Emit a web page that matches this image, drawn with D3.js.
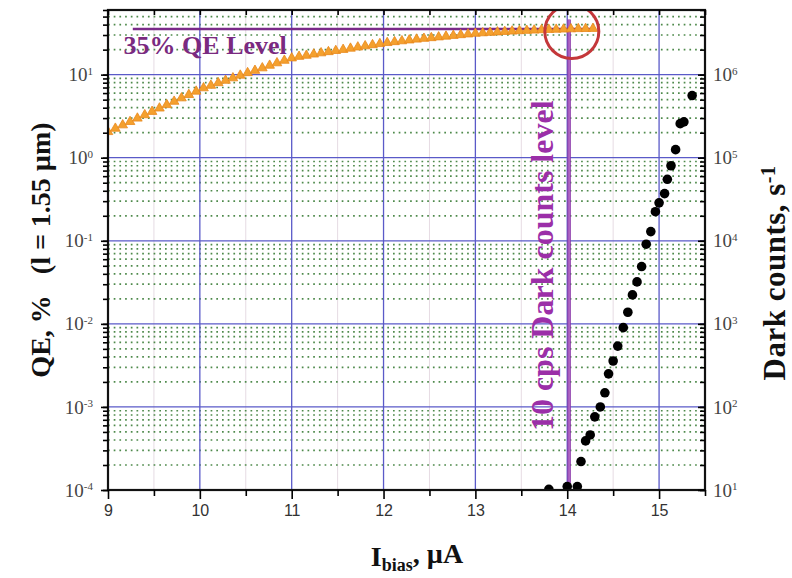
<!DOCTYPE html>
<html>
<head>
<meta charset="utf-8">
<script src="https://cdnjs.cloudflare.com/ajax/libs/d3/7.8.5/d3.min.js"></script>
<style>
    body { margin: 0; background: #fff; }
    .axis path { display: none; }
    .axis line { stroke: #000; stroke-width: 1.6px; }
    .x-axis text { font-family: "Liberation Sans", Arial, sans-serif; font-size: 16px; fill: #333; }
    .log-axis text { font-family: "Liberation Serif", "Times New Roman", serif; font-size: 19px; fill: #444; }
    .title { font-family: "Liberation Serif", "Times New Roman", serif; font-weight: bold; font-size: 28px; fill: #111; }
    .note { font-family: "Liberation Serif", "Times New Roman", serif; font-weight: bold; }
</style>
</head>
<body>
<div id="chart"></div>
<script>
// QE curve, orange triangles (I_bias in uA, QE in %)
const qeBias = [9.00, 9.08, 9.16, 9.24, 9.32, 9.40, 9.48, 9.56, 9.64, 9.72, 9.80, 9.88, 9.96,
    10.04, 10.12, 10.20, 10.28, 10.36, 10.44, 10.52, 10.60, 10.68, 10.76, 10.84, 10.92, 11.00,
    11.08, 11.16, 11.24, 11.32, 11.40, 11.48, 11.56, 11.64, 11.72, 11.80, 11.88, 11.96, 12.04,
    12.12, 12.20, 12.28, 12.36, 12.44, 12.52, 12.60, 12.68, 12.76, 12.84, 12.92, 13.00,
    13.08, 13.16, 13.24, 13.32, 13.40, 13.48, 13.56, 13.64, 13.72, 13.80, 13.88, 13.96,
    14.04, 14.12, 14.20, 14.28];
const qeValues = [2.05, 2.25, 2.47, 2.71, 2.98, 3.27, 3.59, 3.94, 4.33, 4.75, 5.22, 5.73, 6.29,
    6.9, 7.4, 7.95, 8.5, 9.1, 9.8, 10.5, 11.2, 12.0, 12.9, 13.8, 14.8, 15.8,
    16.5, 17.0, 17.6, 18.2, 18.8, 19.4, 20.0, 20.7, 21.4, 22.1, 22.8, 23.5, 24.2,
    24.8, 25.4, 26.0, 26.6, 27.2, 27.7, 28.3, 28.9, 29.5, 30.1, 30.7, 31.3,
    31.7, 32.1, 32.5, 32.9, 33.3, 33.6, 33.9, 34.2, 34.5, 34.8, 35.0, 35.2,
    35.4, 35.6, 35.7, 35.8];

// dark counts, black dots (I_bias in uA, counts per second)
const dcBias = [13.80, 14.00, 14.11, 14.15, 14.20, 14.25, 14.30, 14.36, 14.41, 14.45, 14.50,
    14.55, 14.61, 14.66, 14.71, 14.76, 14.81, 14.86, 14.91, 14.96, 15.00, 15.06, 15.09,
    15.13, 15.18, 15.23, 15.27, 15.36];
const dcValues = [10.2, 11, 11, 22, 39, 46, 76, 100, 148, 250, 357,
    540, 900, 1380, 2230, 3200, 4900, 9100, 12900, 22400, 28600, 37000, 55000,
    80000, 125000, 257000, 270000, 560000];

// ticks
const xTickValues = [9, 10, 11, 12, 13, 14, 15];
const xMinorTicks = [9.5, 10.5, 11.5, 12.5, 13.5, 14.5, 15.5];
const qeTickValues = [1e-4, 1e-3, 1e-2, 1e-1, 1, 10];
const qeTickExps = ["-4", "-3", "-2", "-1", "0", "1"];
const dcTickValues = [1e1, 1e2, 1e3, 1e4, 1e5, 1e6];
const dcTickExps = ["1", "2", "3", "4", "5", "6"];

// annotation levels
const qeLevel = 35.5;
const qeLevelRange = [9.27, 14.3];
const dcLevelBias = 14.02;
const markCenter = [14.05, 33];

class BiasChart {
    constructor(parentElement) {
        this.parentElement = parentElement;
        this.initVis();
    }

    initVis() {
        let vis = this;
        vis.margin = {top: 10, right: 87, bottom: 88, left: 108};
        vis.width = 792 - vis.margin.left - vis.margin.right;
        vis.height = 578 - vis.margin.top - vis.margin.bottom;

        vis.root = d3.select("#" + vis.parentElement).append("svg")
            .attr("width", 792)
            .attr("height", 578);
        vis.root.append("rect").attr("width", 792).attr("height", 578).attr("fill", "#fff");
        vis.svg = vis.root.append("g")
            .attr("transform", "translate(" + vis.margin.left + "," + vis.margin.top + ")");

        // scales
        vis.x = d3.scaleLinear().domain([9, 15.5]).range([0, vis.width]);
        vis.yQE = d3.scaleLog().domain([1e-4, 60]).range([vis.height, 0]);
        vis.yDC = d3.scaleLog().domain([10, 6e6]).range([vis.height, 0]);

        vis.svg.append("clipPath").attr("id", "plot-clip")
            .append("rect").attr("width", vis.width).attr("height", vis.height);

        vis.drawGrid();
        vis.drawData();
        vis.drawAxes();
        vis.drawTitles();
    }

    drawGrid() {
        let vis = this;
        let grid = vis.svg.append("g").attr("class", "grid");
        let isDecade = d => Math.abs(Math.log10(d) - Math.round(Math.log10(d))) < 1e-9;

        // faint half-step verticals
        grid.selectAll(".v-minor").data(xMinorTicks.filter(d => d < 15.5))
            .enter().append("line")
            .attr("x1", d => vis.x(d)).attr("x2", d => vis.x(d))
            .attr("y1", 0).attr("y2", vis.height)
            .attr("stroke", "#e6dbe3").attr("stroke-width", 1);

        // dotted minor horizontals
        grid.selectAll(".h-minor").data(vis.yQE.ticks().filter(d => !isDecade(d)))
            .enter().append("line")
            .attr("x1", 0).attr("x2", vis.width)
            .attr("y1", d => vis.yQE(d)).attr("y2", d => vis.yQE(d))
            .attr("stroke", "#4f8a4c").attr("stroke-width", 1.7)
            .attr("stroke-dasharray", "1.7,4");

        // blue major lines
        grid.selectAll(".h-major").data(qeTickValues.slice(1))
            .enter().append("line")
            .attr("x1", 0).attr("x2", vis.width)
            .attr("y1", d => vis.yQE(d)).attr("y2", d => vis.yQE(d))
            .attr("stroke", "#5a5ac8").attr("stroke-width", 1.3);
        grid.selectAll(".v-major").data(xTickValues.slice(1))
            .enter().append("line")
            .attr("x1", d => vis.x(d)).attr("x2", d => vis.x(d))
            .attr("y1", 0).attr("y2", vis.height)
            .attr("stroke", "#5a5ac8").attr("stroke-width", 1.3);
    }

    drawData() {
        let vis = this;
        let plot = vis.svg.append("g").attr("clip-path", "url(#plot-clip)");

        // dark counts level line
        plot.append("line")
            .attr("x1", vis.x(dcLevelBias)).attr("x2", vis.x(dcLevelBias))
            .attr("y1", vis.yQE(46)).attr("y2", vis.height)
            .attr("stroke", "#8a35a8").attr("stroke-width", 3.5);
        plot.append("line")
            .attr("x1", vis.x(dcLevelBias)).attr("x2", vis.x(dcLevelBias))
            .attr("y1", vis.yQE(46)).attr("y2", vis.height)
            .attr("stroke", "#c98ad8").attr("stroke-width", 1);

        // 35% QE level line
        plot.append("line")
            .attr("x1", vis.x(qeLevelRange[0])).attr("x2", vis.x(qeLevelRange[1]))
            .attr("y1", vis.yQE(qeLevel)).attr("y2", vis.yQE(qeLevel))
            .attr("stroke", "#7a2a88").attr("stroke-width", 2.5);

        // QE triangles
        let qeData = qeBias.map((b, i) => ({bias: b, qe: qeValues[i]}));
        plot.selectAll(".tri").data(qeData)
            .enter().append("path")
            .attr("class", "tri")
            .attr("transform", d => "translate(" + vis.x(d.bias) + "," + vis.yQE(d.qe) + ")")
            .attr("d", d3.symbol().type(d3.symbolTriangle).size(40))
            .attr("fill", "#f4a02e")
            .attr("stroke", "#e8881c")
            .attr("stroke-width", 0.8);

        // red circle around the working point
        plot.append("circle")
            .attr("cx", vis.x(markCenter[0])).attr("cy", vis.yQE(markCenter[1]))
            .attr("r", 27)
            .attr("fill", "none")
            .attr("stroke", "#c4373a")
            .attr("stroke-width", 3);

        // dark count dots
        let dcData = dcBias.map((b, i) => ({bias: b, dc: dcValues[i]}));
        plot.selectAll(".dot").data(dcData)
            .enter().append("circle")
            .attr("class", "dot")
            .attr("cx", d => vis.x(d.bias))
            .attr("cy", d => vis.yDC(d.dc))
            .attr("r", 4.8)
            .attr("fill", "#000");

        // annotations
        vis.svg.append("text")
            .attr("class", "note")
            .attr("x", vis.x(9.17))
            .attr("y", vis.yQE(17.5))
            .attr("font-size", "26px")
            .attr("fill", "#7a2a80")
            .text("35% QE Level");

        vis.svg.append("text")
            .attr("class", "note")
            .attr("transform", "translate(" + vis.x(13.84) + "," + vis.yQE(0.05) + ") rotate(-90)")
            .attr("text-anchor", "middle")
            .attr("font-size", "32px")
            .attr("fill", "#9b2fa8")
            .text("10 cps Dark counts level");
    }

    drawAxes() {
        let vis = this;

        // frame
        vis.svg.append("rect")
            .attr("width", vis.width).attr("height", vis.height)
            .attr("fill", "none").attr("stroke", "#111").attr("stroke-width", 2.2);

        // bottom
        vis.svg.append("g").attr("class", "axis")
            .attr("transform", "translate(0," + vis.height + ")")
            .call(d3.axisBottom(vis.x).tickValues(xMinorTicks).tickSize(6).tickFormat(""));
        vis.svg.append("g").attr("class", "x-axis axis")
            .attr("transform", "translate(0," + vis.height + ")")
            .call(d3.axisBottom(vis.x).tickValues(xTickValues).tickSize(9).tickPadding(6)
                .tickFormat(d3.format("d")));

        // top, ticks inward
        vis.svg.append("g").attr("class", "axis")
            .call(d3.axisTop(vis.x).tickValues(xTickValues.concat(xMinorTicks)).tickSize(-5).tickFormat(""));

        // left QE axis
        vis.svg.append("g").attr("class", "axis")
            .call(d3.axisLeft(vis.yQE).tickValues(vis.yQE.ticks()).tickSize(5).tickFormat(""));
        vis.svg.append("g").attr("class", "y-axis log-axis axis")
            .call(d3.axisLeft(vis.yQE).tickValues(qeTickValues).tickSize(7).tickPadding(8));
        vis.svg.select(".y-axis").selectAll(".tick text")
            .text("10")
            .append("tspan")
            .attr("dy", "-0.6em")
            .attr("font-size", "11px")
            .text(d => qeTickExps[qeTickValues.indexOf(d)]);

        // right dark counts axis, ticks inward
        vis.svg.append("g").attr("class", "axis")
            .attr("transform", "translate(" + vis.width + ",0)")
            .call(d3.axisRight(vis.yDC).tickValues(vis.yDC.ticks()).tickSize(-5).tickFormat(""));
        vis.svg.append("g").attr("class", "y2-axis log-axis axis")
            .attr("transform", "translate(" + vis.width + ",0)")
            .call(d3.axisRight(vis.yDC).tickValues(dcTickValues).tickSize(-7).tickPadding(8));
        vis.svg.select(".y2-axis").selectAll(".tick text")
            .text("10")
            .append("tspan")
            .attr("dy", "-0.6em")
            .attr("font-size", "11px")
            .text(d => dcTickExps[dcTickValues.indexOf(d)]);
    }

    drawTitles() {
        let vis = this;

        let left = vis.root.append("text")
            .attr("class", "title")
            .attr("transform", "translate(50," + (vis.margin.top + vis.height / 2) + ") rotate(-90)")
            .attr("text-anchor", "middle")
            .attr("font-size", "29px")
            .attr("xml:space", "preserve");
        left.text("QE, %   (l = 1.55 \u00b5m)");

        let right = vis.root.append("text")
            .attr("class", "title")
            .attr("transform", "translate(785," + (vis.margin.top + vis.height / 2 + 23) + ") rotate(-90)")
            .attr("text-anchor", "middle")
            .style("font-size", "31px")
            .style("letter-spacing", "0.5px");
        right.append("tspan").text("Dark counts, s");
        right.append("tspan").attr("dy", "-0.5em").style("font-size", "20px").text("-1");

        let bottom = vis.root.append("text")
            .attr("class", "title")
            .attr("x", 417)
            .attr("y", 566)
            .attr("text-anchor", "middle");
        bottom.append("tspan").text("I");
        bottom.append("tspan").attr("dy", "0.3em").attr("font-size", "18px").text("bias");
        bottom.append("tspan").attr("dy", "-0.3em").text(", \u00b5A");
    }
}

new BiasChart("chart");
</script>
</body>
</html>
